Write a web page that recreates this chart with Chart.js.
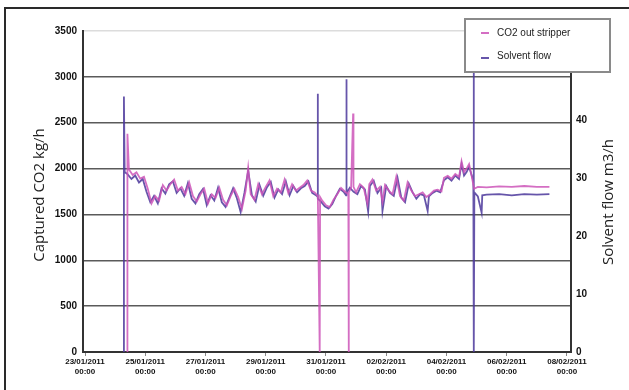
<!DOCTYPE html>
<html>
<head>
<meta charset="utf-8">
<script src="https://cdn.jsdelivr.net/npm/chart.js@4.4.1/dist/chart.umd.min.js"></script>
<style>
  body { margin: 0; background: #fff; }
  #wrap { position: relative; width: 629px; height: 390px; }
</style>
</head>
<body>
<div id="wrap"><canvas id="graphCanvas" width="629" height="390"></canvas></div>
<script>
// hours since 23/01/2011 00:00
var co2Hours = [33.6, 33.8, 35, 38, 41, 44, 47, 50, 53, 56,
    59, 62, 65, 68, 71, 74, 77, 80, 83, 86,
    89, 92, 95, 98, 101, 104, 107, 110, 113, 116,
    119, 122, 125, 128, 130, 132, 135, 138, 141, 144,
    147, 150, 153, 156, 159, 162, 165, 168, 171, 174,
    177, 180, 183, 185.5, 187, 187.3, 189, 192, 195, 198,
    201, 204, 207, 209.8, 210, 210.3, 212, 213.6, 213.9, 216,
    219, 222, 225, 226.5, 229, 232, 235, 237, 239, 242,
    245, 248, 251, 254, 257, 260, 263, 266, 269, 272,
    275, 278, 281, 284, 286, 289, 292, 295, 298, 300,
    302, 304, 306, 308, 310, 313, 320, 330, 340, 350,
    360, 370];
var co2Values = [0, 2380, 1990, 1930, 1960, 1890, 1910, 1780, 1620, 1700,
    1650, 1820, 1760, 1830, 1880, 1760, 1800, 1720, 1850, 1700,
    1640, 1720, 1780, 1620, 1720, 1680, 1790, 1660, 1600, 1700,
    1780, 1690, 1560, 1760, 2010, 1720, 1660, 1830, 1720, 1800,
    1870, 1700, 1780, 1740, 1880, 1730, 1830, 1760, 1790, 1820,
    1870, 1760, 1740, 1700, 0, 1690, 1650, 1600, 1580, 1660,
    1720, 1790, 1750, 1720, 0, 1740, 1790, 2600, 1800, 1740,
    1830, 1790, 1620, 1830, 1880, 1760, 1800, 1640, 1820, 1760,
    1720, 1910, 1700, 1650, 1850, 1760, 1700, 1720, 1740, 1690,
    1720, 1760, 1770, 1750, 1900, 1920, 1890, 1940, 1910, 2080,
    1960, 2000, 2050, 1920, 1780, 1800, 1795, 1805, 1800, 1810,
    1800, 1800];

var flowHours = [30.8, 31, 31.6, 34, 37, 40, 43, 46, 49, 52,
    55, 58, 61, 64, 67, 70, 73, 76, 79, 82,
    85, 88, 91, 94, 97, 100, 103, 106, 109, 112,
    115, 118, 121, 124, 127, 130, 133, 136, 139, 142,
    145, 148, 151, 154, 157, 160, 163, 166, 169, 172,
    175, 178, 181, 184, 185.3, 185.4, 185.6, 188, 191, 194,
    197, 200, 203, 206, 208, 208.2, 208.5, 211, 214, 217,
    220, 223, 225.6, 227, 230, 233, 236, 237, 240, 243,
    246, 249, 252, 255, 258, 261, 264, 267, 270, 273,
    274, 277, 280, 283, 286, 289, 292, 295, 298, 300,
    302, 304, 306, 309.4, 309.6, 309.9, 310.2, 313, 316, 316.5,
    320, 330, 340, 350, 360, 370];
var flowValues = [0, 44, 31, 30.6, 29.8, 30.4, 29.2, 29.8, 27.6, 25.8,
    26.9, 25.6, 28.2, 27.3, 28.9, 29.4, 27.4, 28.2, 26.9, 29.1,
    26.4, 25.6, 27.2, 28.1, 25.3, 27, 26.1, 28.3, 25.8, 25,
    26.6, 28.2, 26.5, 24.1, 27.4, 31.2, 27, 25.9, 28.8, 26.9,
    28.4, 29.3, 26.6, 28, 27.2, 29.4, 27, 28.6, 27.5, 28.2,
    28.6, 29.4, 27.4, 27, 26.8, 44.5, 26.4, 25.9, 25.1, 24.7,
    25.5, 26.9, 28.1, 27.6, 27, 47, 27.4, 28.3, 27.6, 27.2,
    28.6, 28, 24.2, 28.6, 29.5, 27.4, 28.3, 24.3, 28.6, 27.4,
    26.9, 30, 26.6, 25.8, 29, 27.5, 26.4, 27.2, 27, 24.3,
    26.8, 27.4, 27.8, 27.5, 29.6, 30.1, 29.5, 30.4, 29.8, 32.4,
    30.4, 31, 31.9, 29.5, 60, 0, 27.5, 26.8, 24, 27,
    27.1, 27.2, 27, 27.2, 27.1, 27.2];

var xTickHours = [0, 48, 96, 144, 192, 240, 288, 336, 384];
var leftTitle = 'Captured CO2 kg/h';
var rightTitle = 'Solvent flow m3/h';

function toPoints(hours, values) {
    var pts = [];
    for (var i in hours) {
        pts.push({x: hours[i], y: values[i]});
    }
    return pts;
}

function dateLabel(h) {
    var day = 23 + Math.round(h / 24);
    var month = '01';
    if (day > 31) { day = day - 31; month = '02'; }
    var dd = (day < 10 ? '0' : '') + day;
    return [dd + '/' + month + '/2011', '00:00'];
}

function sideTitle(ctx, text, x, y) {
    ctx.save();
    ctx.translate(x, y);
    ctx.rotate(-Math.PI / 2);
    ctx.fillStyle = '#222';
    ctx.font = '15px "Open Sans"';
    ctx.textAlign = 'center';
    ctx.textBaseline = 'middle';
    ctx.fillText(text, 0, 0);
    ctx.restore();
}

// frame, axis titles and the legend box that sits over the plot
var extras = {
    id: 'extras',
    afterDraw: function (chart) {
        var ctx = chart.ctx;
        ctx.save();
        ctx.strokeStyle = '#2a2a2a';
        ctx.lineWidth = 2;
        ctx.beginPath();
        ctx.moveTo(5, 390);
        ctx.lineTo(5, 8);
        ctx.lineTo(629, 8);
        ctx.stroke();
        ctx.restore();

        sideTitle(ctx, leftTitle, 40, 195);
        sideTitle(ctx, rightTitle, 609, 202);

        ctx.save();
        ctx.fillStyle = '#fff';
        ctx.fillRect(465, 19, 145, 53);
        ctx.strokeStyle = '#8a8a8a';
        ctx.lineWidth = 2;
        ctx.strokeRect(465, 19, 145, 53);
        ctx.font = '10px "Liberation Sans"';
        ctx.textBaseline = 'middle';
        ctx.textAlign = 'left';
        var rows = [33, 56];
        chart.data.datasets.forEach(function (ds, i) {
            ctx.strokeStyle = ds.borderColor;
            ctx.lineWidth = 2;
            ctx.beginPath();
            ctx.moveTo(481, rows[i] + (i === 1 ? 2 : 0));
            ctx.lineTo(489, rows[i] + (i === 1 ? 2 : 0));
            ctx.stroke();
            ctx.fillStyle = '#222';
            ctx.fillText(ds.label, 497, rows[i]);
        });
        ctx.restore();
    }
};

var tickFont = {family: 'Liberation Sans', size: 10, weight: 'bold'};

new Chart(document.getElementById('graphCanvas'), {
    type: 'line',
    data: {
        datasets: [{
            label: 'CO2 out stripper',
            data: toPoints(co2Hours, co2Values),
            yAxisID: 'y',
            borderColor: 'rgba(205,85,185,0.85)',
            borderWidth: 1.8,
            pointRadius: 0,
            tension: 0
        }, {
            label: 'Solvent flow',
            data: toPoints(flowHours, flowValues),
            yAxisID: 'y1',
            borderColor: 'rgba(75,55,155,0.85)',
            borderWidth: 1.8,
            pointRadius: 0,
            tension: 0
        }]
    },
    options: {
        responsive: false,
        animation: false,
        layout: {padding: {top: 31, left: 0, right: 0, bottom: 0}},
        plugins: {
            legend: {display: false},
            tooltip: {enabled: false}
        },
        scales: {
            x: {
                type: 'linear',
                min: -1.6,
                max: 387.2,
                afterBuildTicks: function (scale) {
                    scale.ticks = xTickHours.map(function (v) { return {value: v}; });
                },
                afterFit: function (scale) { scale.height = 38; },
                ticks: {
                    autoSkip: false,
                    maxRotation: 0,
                    padding: 1,
                    color: '#111',
                    font: {family: 'Liberation Sans', size: 8, weight: 'bold'},
                    callback: function (v) { return dateLabel(v); }
                },
                grid: {drawOnChartArea: false, drawTicks: true, tickLength: 4, color: '#888'},
                border: {color: '#333', width: 2}
            },
            y: {
                position: 'left',
                min: 0,
                max: 3500,
                afterFit: function (scale) { scale.width = 83; },
                ticks: {
                    stepSize: 500, padding: 6, color: '#111', font: tickFont,
                    callback: function (v) { return String(v); }
                },
                grid: {
                    drawTicks: false,
                    lineWidth: 1.5,
                    color: function (c) { return c.tick && c.tick.value === 3500 ? '#dcdcdc' : '#5a5a5a'; }
                },
                border: {color: '#333', width: 2}
            },
            y1: {
                position: 'right',
                min: 0,
                max: 55.3,
                afterFit: function (scale) { scale.width = 58; },
                ticks: {stepSize: 10, includeBounds: false, padding: 5, color: '#111', font: tickFont},
                grid: {drawOnChartArea: false, drawTicks: false},
                border: {color: '#333', width: 2}
            }
        }
    },
    plugins: [extras]
});
</script>
</body>
</html>
